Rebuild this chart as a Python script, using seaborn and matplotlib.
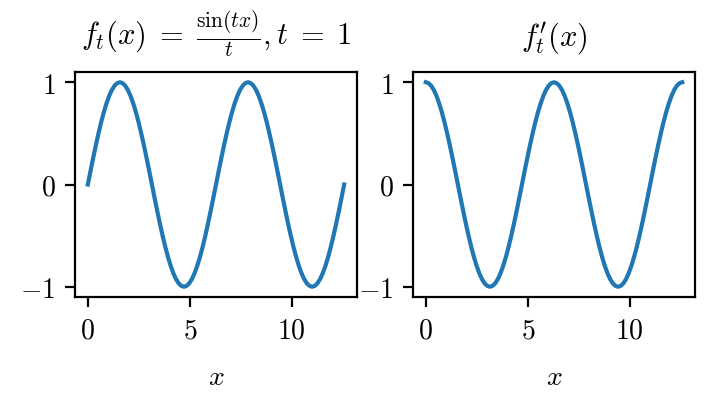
import matplotlib
matplotlib.use("Agg")
import matplotlib.pyplot as plt
import seaborn as sns
import pandas as pd

plt.rcParams['mathtext.fontset'] = 'cm'
plt.rcParams['font.family'] = ['serif']
plt.rcParams['font.serif'] = ['DejaVu Serif']
plt.rcParams['axes.unicode_minus'] = True

x_vals = [0, 0.131, 0.262, 0.393, 0.524, 0.654, 0.785, 0.916, 1.047, 1.178, 1.309, 1.440,
          1.571, 1.702, 1.833, 1.963, 2.094, 2.225, 2.356, 2.487, 2.618, 2.749, 2.880, 3.011,
          3.142, 3.272, 3.403, 3.534, 3.665, 3.796, 3.927, 4.058, 4.189, 4.320, 4.451, 4.581,
          4.712, 4.843, 4.974, 5.105, 5.236, 5.367, 5.498, 5.629, 5.760, 5.890, 6.021, 6.152,
          6.283, 6.414, 6.545, 6.676, 6.807, 6.938, 7.069, 7.199, 7.330, 7.461, 7.592, 7.723,
          7.854, 7.985, 8.116, 8.247, 8.378, 8.508, 8.639, 8.770, 8.901, 9.032, 9.163, 9.294,
          9.425, 9.556, 9.687, 9.817, 9.948, 10.079, 10.210, 10.341, 10.472, 10.603, 10.734, 10.865,
          10.996, 11.126, 11.257, 11.388, 11.519, 11.650, 11.781, 11.912, 12.043, 12.174, 12.305, 12.435,
          12.566]
f_vals = [0, .131, .259, .383, .5, .609, .707, .793, .866, .924, .966, .991,
          1, .991, .966, .924, .866, .793, .707, .609, .5, .383, .259, .131,
          0, -.131, -.259, -.383, -.5, -.609, -.707, -.793, -.866, -.924, -.966, -.991,
          -1, -.991, -.966, -.924, -.866, -.793, -.707, -.609, -.5, -.383, -.259, -.131,
          0, .131, .259, .383, .5, .609, .707, .793, .866, .924, .966, .991,
          1, .991, .966, .924, .866, .793, .707, .609, .5, .383, .259, .131,
          0, -.131, -.259, -.383, -.5, -.609, -.707, -.793, -.866, -.924, -.966, -.991,
          -1, -.991, -.966, -.924, -.866, -.793, -.707, -.609, -.5, -.383, -.259, -.131,
          0]
df_vals = [1, .991, .966, .924, .866, .793, .707, .609, .5, .383, .259, .131,
           0, -.131, -.259, -.383, -.5, -.609, -.707, -.793, -.866, -.924, -.966, -.991,
           -1, -.991, -.966, -.924, -.866, -.793, -.707, -.609, -.5, -.383, -.259, -.131,
           0, .131, .259, .383, .5, .609, .707, .793, .866, .924, .966, .991,
           1, .991, .966, .924, .866, .793, .707, .609, .5, .383, .259, .131,
           0, -.131, -.259, -.383, -.5, -.609, -.707, -.793, -.866, -.924, -.966, -.991,
           -1, -.991, -.966, -.924, -.866, -.793, -.707, -.609, -.5, -.383, -.259, -.131,
           0, .131, .259, .383, .5, .609, .707, .793, .866, .924, .966, .991,
           1]
x_ticks = [0, 5, 10]
y_ticks = [-1, 0, 1]
titles = [r"$f_t(x) \;=\; \frac{\sin(tx)}{t}, t \;=\; 1$", r"$f^{\prime}_t(x)$"]
xlabel = r"$x$"

df = pd.DataFrame({"x": x_vals, "f": f_vals, "df": df_vals})

fig = plt.figure(figsize=(7.18, 4.06), dpi=100)
ax1 = fig.add_axes([75 / 718, 1 - 298 / 406, 282 / 718, 225 / 406])
ax2 = fig.add_axes([413 / 718, 1 - 298 / 406, 282 / 718, 225 / 406])

for ax, col, title in zip([ax1, ax2], ["f", "df"], titles):
    sns.lineplot(data=df, x="x", y=col, ax=ax, color="#1f77b4", linewidth=3)
    ax.set_title(title, fontsize=22, pad=20)
    ax.set_xlabel(xlabel, fontsize=20, labelpad=14)
    ax.set_ylabel("")
    ax.set_xticks(x_ticks)
    ax.set_xticklabels([f"${v}$" for v in x_ticks], fontsize=20)
    ax.set_yticks(y_ticks)
    ax.set_yticklabels([f"${v}$" for v in y_ticks], fontsize=20)
    ax.tick_params(length=7, width=1.6, pad=7)
    for s in ax.spines.values():
        s.set_linewidth(1.6)

fig.savefig("out.png", dpi=100)
